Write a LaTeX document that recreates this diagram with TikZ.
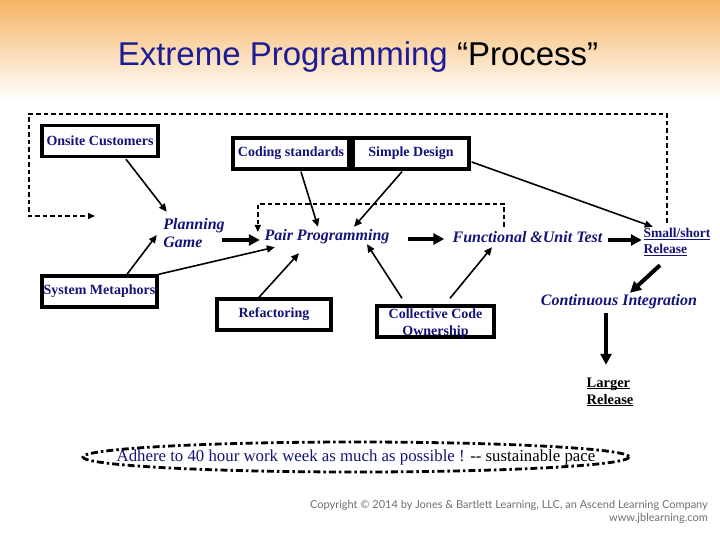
\documentclass[tikz,border=0pt]{standalone}
\usepackage{fontspec}
\setmainfont{Liberation Serif}
\newfontfamily\arialf{Liberation Sans}
\newfontfamily\copyf{Lato}
\usetikzlibrary{arrows.meta,calc,shapes.geometric}
\newsavebox{\xpulbox}
\newcommand{\xpul}[1]{\sbox{\xpulbox}{#1}\rlap{\rule[-2.2pt]{\wd\xpulbox}{1pt}}\usebox{\xpulbox}}
\definecolor{xpnavy}{RGB}{20,20,120}
\definecolor{xptitle}{RGB}{28,28,150}
\definecolor{xporange}{RGB}{245,180,100}
\definecolor{xpgray}{RGB}{110,110,110}
\tikzset{
  boxnode/.style={draw,line width=3.4pt,text=xpnavy,font=\fontsize{14}{16}\selectfont\bfseries,
    inner sep=0pt,minimum height=31pt},
  itlabel/.style={text=xpnavy,font=\fontsize{16}{18}\selectfont\bfseries\itshape,inner sep=0pt},
  ulabel/.style={font=\fontsize{13.5}{16.5}\selectfont\bfseries,inner sep=0pt,align=left},
  thin arrow/.style={line width=1.6pt,-{Triangle[length=8pt,width=7pt]}},
  thick arrow/.style={line width=4pt,-{Triangle[length=11pt,width=11pt]}},
  dashline/.style={line width=1.6pt,dash pattern=on 4.5pt off 3pt},
}
\begin{document}
\begin{tikzpicture}[x=1pt,y=-1pt]
\useasboundingbox (0,0) rectangle (720,540);
\shade[top color=xporange,bottom color=white] (0,0) rectangle (720,100);
% title
\node[font=\arialf\fontsize{33}{38}\selectfont,inner sep=0pt,anchor=base] (title) at (358,66)
  {\textcolor{xptitle}{Extreme Programming} \textcolor{black}{“Process”}};
% boxes
\node[boxnode,minimum width=116pt] (onsite) at (100,141) {Onsite Customers};
\node[boxnode,minimum width=116pt] (coding) at (291,153.5) {Coding standards};
\node[boxnode,minimum width=116pt] (simple) at (411,153.5) {Simple Design};
\node[boxnode,minimum width=115pt] (sysmet) at (99.5,291.5) {System Metaphors};
\node[boxnode,minimum width=114pt] (refac) at (274,314.5) {Refactoring};
\node[boxnode,minimum width=117pt] (coll) at (435.5,321.5) {};
\node[text=xpnavy,font=\fontsize{14}{17}\selectfont\bfseries,align=center,inner sep=0pt,anchor=base]
  (colltext) at (435.5,335) {Collective Code\\Ownership};
% italic labels
\node[itlabel,minimum width=64pt,minimum height=36pt,align=left] (plan) at (194,233) {Planning\\Game};
\node[itlabel,minimum width=126pt,minimum height=20pt] (pair) at (327,237) {Pair Programming};
\node[itlabel,minimum width=154pt,minimum height=20pt] (func) at (527.5,237) {Functional \&Unit Test};
\node[itlabel,minimum width=158pt,minimum height=20pt] (ci) at (619,302) {Continuous Integration};
\node[ulabel,text=xpnavy,minimum width=70pt,minimum height=34pt] (small) at (677,242)
  {\xpul{Small/short}\\\xpul{Release}};
\node[ulabel,text=black,minimum width=48pt,minimum height=36pt,font=\fontsize{14.5}{17}\selectfont\bfseries] (larger) at (610,392)
  {\xpul{Larger}\\\xpul{Release}};
% ellipse
\node[inner sep=0pt,font=\fontsize{16.8}{18}\selectfont] (adhere) at (356,457)
  {\textcolor{xpnavy}{Adhere to 40 hour work week as much as possible !} -{}- sustainable pace};
\draw[line width=2.8pt,dash pattern=on 7pt off 3pt on 2.5pt off 3pt] (adhere.center) ellipse [x radius=273, y radius=15];
% copyright
\node[font=\copyf\fontsize{11}{13.5}\selectfont,text=xpgray,align=right,anchor=north east,inner sep=0pt] (copy) at (708,500)
  {Copyright © 2014 by Jones \& Bartlett Learning, LLC, an Ascend Learning Company\\www.jblearning.com};
% connectors
\coordinate (loopTL) at (29,114);
\coordinate (loopend) at (95,216);
\draw[dashline,-{Triangle[length=7pt,width=6pt]}] ($(small.north)+(-10,-2)$) |- (loopTL) |- (loopend);
\draw[dashline,-{Triangle[length=7pt,width=6pt]}] ($(func.north)+(-23.5,0)$) -- ++(0,-23) -| ($(pair.west)+(-6,-5)$);
\draw[thin arrow] ($(onsite.south)+(26,1)$) -- ($(plan.north west)+(5,-3)$);
\draw[thin arrow] ($(sysmet.north)+(27.5,0)$) -- ($(plan.west)+(-5,2)$);
\draw[thin arrow] (sysmet.north east) -- ($(pair.south west)+(11,0)$);
\draw[thin arrow] ($(coding.south)+(10,1)$) -- ($(pair.north)+(-9,0)$);
\draw[thin arrow] ($(simple.south)+(-9,1)$) -- ($(pair.north)+(27,0)$);
\draw[thin arrow] ($(simple.east)+(1,8.5)$) -- ($(small.north west)+(11,2)$);
\draw[thin arrow] ($(refac.north)+(-15,0)$) -- ($(pair.south)+(-28,6)$);
\draw[thin arrow] ($(coll.north)+(-33.5,-6)$) -- ($(pair.south)+(40,-3)$);
\draw[thin arrow] ($(coll.north)+(14.5,-6)$) -- ($(func.south)+(-35.5,0)$);
\draw[thick arrow] ($(plan.east)+(-4,7)$) -- ($(pair.west)+(-4,3)$);
\draw[thick arrow] ($(pair.east)+(18,2)$) -- ($(func.west)+(-6,2)$);
\draw[thick arrow] ($(func.east)+(3,3)$) -- ($(small.west)+(0,-2)$);
\draw[thick arrow] ($(small.south)+(-17,6)$) -- ($(ci.north)+(11,1)$);
\draw[thick arrow] ($(ci.south)+(-13,1)$) -- ($(larger.north)+(-4,-9)$);
\end{tikzpicture}
\end{document}
